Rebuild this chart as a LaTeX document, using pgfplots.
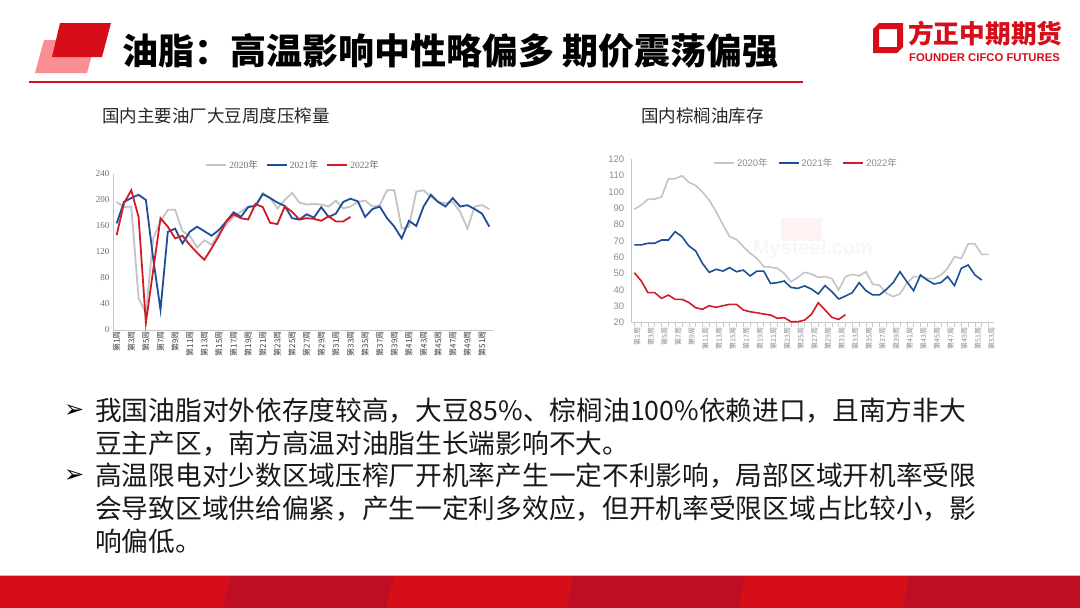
\documentclass[border=0pt]{standalone}
\usepackage{fontspec}
\setmainfont{Noto Sans CJK SC}
\newfontfamily\cjk{Noto Sans CJK SC}
\newfontfamily\lserif{Liberation Serif}
\newfontfamily\lsans{Liberation Sans}
\newfontfamily\dejavu{DejaVu Sans}
\usepackage{pgfplots}
\pgfplotsset{compat=1.18}
\definecolor{c20}{RGB}{196,196,196}
\definecolor{c21}{RGB}{30,78,150}
\definecolor{c22}{RGB}{208,28,38}
\definecolor{brand}{RGB}{214,14,26}
\definecolor{branddark}{RGB}{190,14,36}
\definecolor{pinkbox}{RGB}{250,142,148}
\definecolor{axgray}{RGB}{200,200,200}
\definecolor{labgray}{RGB}{110,110,110}
\begin{document}
\begin{tikzpicture}
\path[use as bounding box, fill=white] (0pt,0pt) rectangle (1080pt,-608pt);
\begin{scope}[x=1pt,y=-1pt]
% header
\fill[pinkbox] (35,73) -- (44,40) -- (96,40) -- (87,73) -- cycle;
\fill[brand] (52,57) -- (60,23) -- (111,23) -- (102,57) -- cycle;
\node[anchor=west, inner sep=0pt, font=\fontsize{36}{40}\selectfont\bfseries] at (122,51) {油脂：高温影响中性略偏多 期价震荡偏强};
\draw[brand, line width=1.4pt] (29,82) -- (803,82);
% logo
\fill[brand, even odd rule] (873,29) -- (879,23) -- (903,23) -- (903,47) -- (897,53) -- (873,53) -- cycle
  (879,29) -- (897,29) -- (897,47) -- (879,47) -- cycle;
\node[anchor=west, inner sep=0pt, text=brand, font=\fontsize{25.7}{27}\selectfont\bfseries] at (908,34) {方正中期期货};
\node[anchor=west, inner sep=0pt, text=brand, font=\lsans\fontsize{11.3}{12}\selectfont\bfseries] at (909,57.5) {FOUNDER CIFCO FUTURES};
% chart titles
\node[anchor=west, inner sep=0pt, font=\fontsize{17.5}{19}\selectfont, text=black!85] at (102,116) {国内主要油厂大豆周度压榨量};
\node[anchor=west, inner sep=0pt, font=\fontsize{17.5}{19}\selectfont, text=black!85] at (641,116) {国内棕榈油库存};
% watermark
\fill[red!5] (781,218) rectangle (822,241);
\node[text=black!3, font=\lsans\bfseries\fontsize{20}{22}\selectfont] at (813,249) {Mysteel.com};
% bullets
\begin{scope}[every node/.style={anchor=west, inner sep=0pt, font=\fontsize{26.7}{30}\selectfont, text=black!90}]
\node[text=black] at (64,411) {\dejavu\bfseries\fontsize{24}{26}\selectfont ➢};
\node at (95,411) {我国油脂对外依存度较高，大豆85\%、棕榈油100\%依赖进口，且南方非大};
\node at (95,444) {豆主产区，南方高温对油脂生长端影响不大。};
\node[text=black] at (64,476) {\dejavu\bfseries\fontsize{24}{26}\selectfont ➢};
\node at (95,476) {高温限电对少数区域压榨厂开机率产生一定不利影响，局部区域开机率受限};
\node at (95,509) {会导致区域供给偏紧，产生一定利多效应，但开机率受限区域占比较小，影};
\node at (95,541) {响偏低。};
\end{scope}
% bottom band
\fill[brand] (0,575) rectangle (1080,608);
\fill[branddark] (231,575) -- (394,575) -- (386,608) -- (223,608) -- cycle;
\fill[branddark] (573,575) -- (745,575) -- (739,608) -- (567,608) -- cycle;
\fill[branddark] (909,575) -- (1080,575) -- (1080,608) -- (903,608) -- cycle;
\draw[red!35, line width=0.6pt] (0,575) -- (1080,575);
\end{scope}

% ---------- left chart
\begin{axis}[
  at={(113pt,-330pt)}, anchor=south west,
  scale only axis, width=380pt, height=156pt,
  xmin=0.5, xmax=52.5, ymin=0, ymax=240,
  axis lines*=left,
  axis line style={axgray, line width=0.6pt},
  ytick={0,40,...,240},
  xtick={1,3,...,51},
  xticklabel={\pgfmathtruncatemacro{\wk}{\tick}第\wk 周},
  x tick label style={rotate=90, anchor=east, font=\fontsize{8}{9}\selectfont, text=black!75, inner sep=1pt},
  y tick label style={font=\lserif\fontsize{9}{10}\selectfont, text=labgray},
  /pgf/number format/assume math mode=true,
  major tick length=0pt,
  clip=false,
  legend style={at={(0.474,1.058)}, anchor=center, draw=none, fill=none,
    legend columns=3, font=\lserif\fontsize{9.5}{10}\selectfont, text=labgray,
    /tikz/every even column/.append style={column sep=6pt}},
  legend image code/.code={\draw[#1, line width=2pt] (0pt,0pt) -- (20pt,0pt);},
]
\addplot[c20, line width=1.8pt] coordinates {(1,197)(2,189)(3,190)(4,49)(5,26)(6,141)(7,167)(8,185)(9,185)(10,152)(11,145)(12,127)(13,138)(14,131)(15,149)(16,162)(17,174)(18,182)(19,190)(20,192)(21,211)(22,203)(23,187)(24,200)(25,211)(26,196)(27,193)(28,194)(29,193)(30,190)(31,199)(32,187)(33,190)(34,197)(35,199)(36,190)(37,192)(38,215)(39,215)(40,156)(41,159)(42,213)(43,215)(44,205)(45,197)(46,195)(47,197)(48,182)(49,156)(50,190)(51,192)(52,186)};
\addlegendentry{2020{\cjk 年}}
\addplot[c21, line width=1.8pt] coordinates {(1,164)(2,197)(3,203)(4,208)(5,200)(6,110)(7,31)(8,151)(9,156)(10,133)(11,151)(12,159)(13,152)(14,145)(15,154)(16,167)(17,181)(18,174)(19,189)(20,191)(21,209)(22,203)(23,196)(24,191)(25,172)(26,170)(27,178)(28,173)(29,189)(30,174)(31,179)(32,197)(33,202)(34,198)(35,174)(36,186)(37,190)(38,172)(39,159)(40,141)(41,168)(42,160)(43,190)(44,208)(45,197)(46,190)(47,203)(48,190)(49,192)(50,186)(51,179)(52,159)};
\addlegendentry{2021{\cjk 年}}
\addplot[c22, line width=1.8pt] coordinates {(1,146)(2,195)(3,215)(4,174)(5,11)(6,92)(7,172)(8,159)(9,141)(10,145)(11,131)(12,119)(13,108)(14,126)(15,145)(16,167)(17,178)(18,172)(19,170)(20,194)(21,189)(22,165)(23,163)(24,190)(25,182)(26,170)(27,172)(28,171)(29,168)(30,175)(31,167)(32,167)(33,174)};
\addlegendentry{2022{\cjk 年}}
\end{axis}

% ---------- right chart
\begin{axis}[
  at={(631.7pt,-322.7pt)}, anchor=south west,
  scale only axis, width=362.3pt, height=163.4pt,
  xmin=0.62, xmax=53.8, ymin=20, ymax=120,
  axis lines*=left,
  axis line style={axgray, line width=0.6pt},
  ytick={20,30,...,120},
  xtick={1,3,...,53},
  minor xtick={2,4,...,52},
  xticklabel={\pgfmathtruncatemacro{\wk}{\tick}第\wk 周},
  x tick label style={rotate=90, anchor=east, font=\fontsize{7}{8}\selectfont, text=black!45, inner sep=1pt, yshift=-3pt},
  y tick label style={font=\lsans\fontsize{9.5}{10}\selectfont, text=black!45},
  /pgf/number format/assume math mode=true,
  ytick style={draw=none},
  xtick style={axgray, line width=0.5pt},
  minor tick style={axgray, line width=0.5pt},
  tick align=outside,
  major tick length=4pt, minor tick length=4pt,
  clip=false,
  legend style={at={(0.481,0.977)}, anchor=center, draw=none, fill=none,
    legend columns=3, font=\lsans\fontsize{9.5}{10}\selectfont, text=black!45,
    /tikz/every even column/.append style={column sep=8pt}},
  legend image code/.code={\draw[#1, line width=2pt] (0pt,0pt) -- (20pt,0pt);},
]
\addplot[c20, line width=1.6pt] coordinates {(1,89.4)(2,92)(3,95.5)(4,95.7)(5,97)(6,108)(7,108)(8,110)(9,106)(10,104)(11,100)(12,95)(13,88)(14,80)(15,72.7)(16,71)(17,66.5)(18,62.5)(19,59.4)(20,54.3)(21,54)(22,53.3)(23,50.2)(24,45)(25,47.8)(26,50.8)(27,49.8)(28,47.8)(29,48.2)(30,47)(31,40)(32,48.2)(33,49.6)(34,48.6)(35,51.2)(36,43.5)(37,43)(38,38)(39,36)(40,37.6)(41,44)(42,48.2)(43,48.2)(44,47)(45,47)(46,49.2)(47,53.3)(48,60.4)(49,59.4)(50,68.2)(51,68.2)(52,61.8)(53,61.8)};
\addlegendentry{2020{\cjk 年}}
\addplot[c21, line width=1.6pt] coordinates {(1,67.6)(2,67.6)(3,68.6)(4,68.6)(5,70.6)(6,70.6)(7,75.7)(8,72.7)(9,67)(10,64)(11,56.3)(12,50.8)(13,52.7)(14,51.6)(15,53.7)(16,51.2)(17,52.2)(18,48.6)(19,51.6)(20,51.6)(21,44)(22,44.5)(23,45.5)(24,41.6)(25,41)(26,42.5)(27,40.6)(28,37.6)(29,42.7)(30,39)(31,34.5)(32,36.3)(33,38.4)(34,44.5)(35,39.6)(36,37)(37,37)(38,40.4)(39,44.5)(40,51.2)(41,45.1)(42,39.6)(43,49.2)(44,46.1)(45,43.7)(46,44.5)(47,48.2)(48,42.7)(49,53.3)(50,55.3)(51,49.2)(52,46.1)};
\addlegendentry{2021{\cjk 年}}
\addplot[c22, line width=1.6pt] coordinates {(1,50.6)(2,45.7)(3,38.4)(4,38.4)(5,34.9)(6,36.9)(7,34.3)(8,34.3)(9,32.4)(10,29.2)(11,28.2)(12,30.4)(13,29.4)(14,30.4)(15,31.2)(16,31.2)(17,27.8)(18,26.7)(19,26.1)(20,25.3)(21,24.7)(22,22.7)(23,23.1)(24,20.6)(25,20.6)(26,21.6)(27,25.1)(28,32.2)(29,27.8)(30,23.3)(31,22)(32,24.9)};
\addlegendentry{2022{\cjk 年}}
\end{axis}
\end{tikzpicture}
\end{document}
